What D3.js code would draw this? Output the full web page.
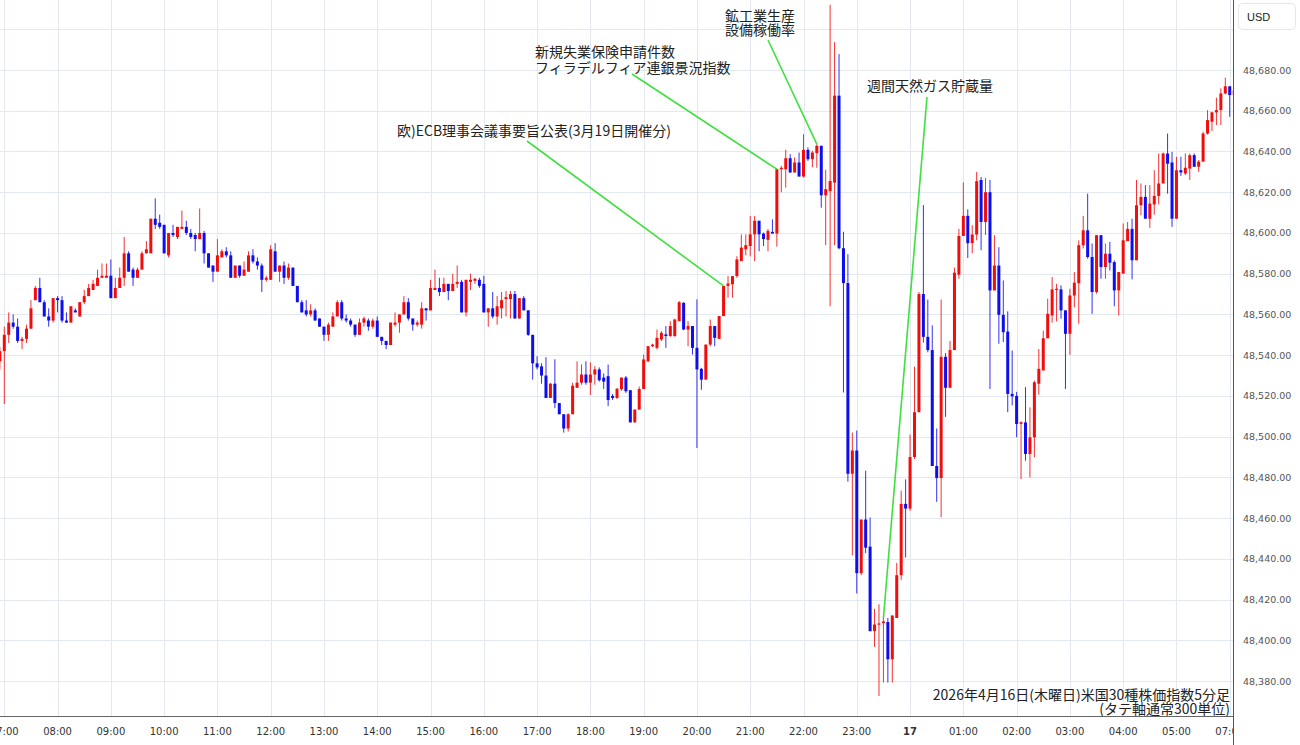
<!DOCTYPE html>
<html><head><meta charset="utf-8">
<script src="https://cdn.jsdelivr.net/npm/d3@7"></script>
<style>
html,body{margin:0;padding:0;background:#fff;}
svg{display:block;}
</style></head>
<body>
<svg id="chart" width="1300" height="745"></svg>
<script>
// ---- data (5-minute bars, index 0 = bar before 07:00 session start) ----
const opens = [48537,48542,48550,48556,48554,48547,48548,48553,48567,48573,48566,48559,48557,48568,48567,48557,48556,48562,48559,48566,48569,48572,48574,48578,48578,48579,48568,48573,48578,48590,
48582,48578,48582,48590,48590,48607,48605,48604,48589,48600,48598,48602,48603,48600,48599,48597,48600,48590,48584,48581,48588,48591,48589,48578,48584,48579,48581,48589,48586,48584,
48577,48577,48591,48581,48584,48578,48583,48574,48566,48562,48560,48562,48558,48554,48550,48554,48559,48566,48558,48557,48555,48550,48556,48557,48554,48557,48549,48547,48545,48555,
48556,48560,48566,48558,48555,48555,48563,48562,48572,48573,48571,48575,48571.5,48575,48576,48561,48576,48576.5,48577,48575,48561,48563,48559,48563,48567.5,48567.5,48570,48558,48568,48562,
48550,48536,48534.5,48530,48519,48526,48516.5,48511,48504,48511,48524,48526.5,48530.5,48526.5,48530.5,48533,48529,48529.7,48520,48519,48523.3,48529,48522.8,48507,48513.3,48523.4,48537,48544.4,48543.6,48547.7,
48550.2,48549.4,48549.4,48556.7,48565.7,48552.6,48554.3,48543.6,48533.3,48528,48545.2,48554.3,48548,48559.2,48574,48574.8,48578.8,48586.2,48592,48593.6,48599.3,48606,48599.7,48596.6,48600.5,48599.7,48631.3,48631.3,48636.7,48629.7,
48634.6,48627.7,48640.8,48636.2,48639.2,48642.8,48618.5,48620.5,48624.7,48667.4,48592.5,48575.4,48481.8,48493.2,48433,48459.3,48446,48404.5,48407.8,48408.5,48409,48390.7,48411,48432,48467,48464.7,48490,48512,48570,48549,
48542.5,48485.6,48479.7,48539.2,48524,48542.5,48579.5,48598.5,48608.4,48595,48599.2,48626,48605.4,48620,48571.8,48584,48559.8,48551.6,48521,48520,48506.3,48507,48491.5,48499.7,48526,48532.5,48548.3,48559.5,48572,48572.3,
48562,48550.5,48569.3,48575.3,48594,48601.3,48588.2,48571,48598.9,48583.3,48589.8,48585.7,48571.8,48580,48596,48602,48586.6,48613.6,48617.7,48607,48614,48618.2,48624.3,48639,48634.6,48607,48630.8,48629.2,48631.6,48638.2,
48632.5,48635,48648.8,48654.6,48659.2,48660.3,48668.5,48672,48667.7];
const highs = [48544,48554,48561,48560,48558,48549,48555,48567,48574,48578,48567,48563,48568,48569,48569,48561,48564,48563,48566,48572,48575,48577,48582,48585,48585,48587,48578,48583,48598,48591,
48583,48583,48591,48596,48607,48617,48609,48604,48600,48604,48603,48611,48606,48602,48600,48612,48601,48590,48584,48597,48592,48593,48591,48584,48584,48586,48591,48592,48588,48585,
48579,48594,48595,48584,48586,48585,48583,48574,48567,48567,48565,48563,48558,48554,48556,48561,48567,48567,48560,48558,48555,48558,48559,48558,48558,48559,48549,48547,48556,48561,
48560,48569,48568,48558,48557,48566,48563,48577,48582,48578,48578,48575,48580,48584,48577,48577,48580,48578,48578,48579,48563,48571,48569,48571,48571.5,48571.5,48571.5,48568,48569,48562,
48550,48539.5,48536,48539,48526.4,48538,48516.5,48511,48511.5,48526.5,48537,48535.5,48537,48536.5,48534.6,48534,48531,48535.4,48521,48523.9,48529,48529.8,48522.8,48513.3,48524.6,48540.3,48544.4,48545.6,48552.6,48551.8,
48554.3,48556.7,48557.9,48566.6,48566,48556.7,48554.3,48567.4,48533.8,48545.2,48557.5,48554.3,48559.2,48574,48578.8,48578.8,48588.6,48599.3,48599.3,48608.4,48608.4,48606,48600.2,48602,48606.7,48631.3,48633,48640.8,48638.7,48637.1,
48639.5,48648.5,48642,48640.4,48643.6,48642.8,48631,48712,48693.7,48687.8,48600.6,48589.6,48502,48503,48459.3,48483.3,48460.3,48415.5,48417.7,48411,48411,48412.2,48438,48473.5,48479,48501,48534.4,48571,48613.7,48567.3,
48554.6,48504,48567.3,48541,48547,48583,48602,48624.8,48611.6,48603.8,48630,48627.5,48627,48626,48598.9,48593,48576.7,48561.5,48542.3,48522,48507.5,48524.3,48514.4,48527.5,48543,48552,48567.7,48578.4,48575,48574.3,
48562,48572.6,48580.8,48596.4,48608.4,48619.3,48594.8,48598.9,48598.9,48594.8,48595.6,48586.5,48580.8,48604.6,48605.4,48607,48626,48624.3,48623.5,48623.5,48630.8,48639,48639.5,48648.8,48639.8,48637.4,48637.4,48639,48639,48639,
48635.8,48649.7,48660.3,48659.5,48666.4,48671,48676.2,48672,48671];
const lows = [48533,48516,48546,48553,48546,48543,48546,48553,48567,48566,48559,48554,48556,48561,48556,48556,48556,48561,48559,48565,48569,48572,48574,48578,48578,48568,48568,48573,48574,48581,
48574,48578,48582,48590,48590,48602,48602,48590,48588,48598,48597,48602,48599,48597,48591,48597,48585,48583,48576,48581,48588,48588,48578,48578,48578,48579,48581,48585,48582,48571,
48576,48577,48581,48576,48575,48577,48574,48566,48561,48559,48559,48557,48554,48547,48547,48554,48559,48557,48556,48554,48549,48550,48554,48552,48553,48549,48545,48543,48545,48554,
48551,48560,48557,48552,48554,48553,48557,48562,48572,48569,48571,48567,48571.5,48573,48561,48559,48572,48575,48573,48561,48554,48558,48555,48558,48559,48558,48558,48558,48562,48549.5,
48528,48533,48526,48519,48519,48514,48511,48502,48502.5,48511,48524,48525.5,48525.5,48520.5,48525.5,48527,48523.4,48515,48518,48518.5,48522.5,48521.5,48507,48507,48513.3,48523.4,48536.5,48544,48542.8,48546.9,
48543.6,48549,48549,48556.7,48552.3,48544.4,48540.3,48494.4,48523,48528,48544.4,48544.4,48548,48559.2,48568.2,48568.2,48578,48586.2,48589,48588.5,48586.2,48591,48593.6,48591,48599.7,48593.3,48620,48622.3,48629.5,48629.7,
48627.7,48627.2,48635.4,48632.3,48632,48612.4,48594,48564,48594,48592,48521.7,48477.9,48441.7,48423,48432,48442.8,48404.5,48396.8,48372.7,48379.3,48379.3,48379.3,48411,48429.7,48440.7,48463.6,48489,48512,48546.2,48541.4,
48485.6,48468,48460.4,48509.7,48524,48542.5,48577.5,48598.5,48587.7,48590,48596.4,48591.5,48599,48523.4,48571.8,48545.6,48546.4,48512,48515.3,48499.7,48479.2,48488.2,48480,48489.9,48520.6,48532.5,48548.3,48556,48556.6,48557.9,
48523.4,48540.2,48563.5,48555.4,48592.4,48587.4,48560.3,48570.2,48577.5,48577.5,48581.6,48564,48559.5,48580,48596,48577.2,48586.6,48608.7,48607,48602.5,48609,48614,48624.3,48619.3,48603,48607,48628,48628.4,48626,48632.5,
48630,48635,48648.3,48650,48653,48653,48668,48657,48666];
const closes = [48542,48550,48556,48554,48547,48548,48553,48563,48573,48566,48559,48557,48568,48567,48557,48556,48564,48561,48566,48569,48573,48575,48578,48579,48579,48568,48573,48578,48590,48581,
48578,48582,48590,48592,48607,48604,48603,48590,48600,48599,48603,48603,48600,48598,48597,48600,48590,48583,48581,48589,48591,48589,48578,48584,48579,48582,48589,48586,48584,48577,
48578,48592,48581,48584,48578,48583,48574,48566,48561,48560,48562,48557,48554,48550,48555,48559,48566,48558,48557,48555,48550,48556,48558,48554,48557,48549,48547,48545,48556,48556,
48560,48566,48558,48555,48556,48563,48562,48573,48573,48571,48575,48571.5,48575,48576,48561,48577,48577,48577.5,48574,48561,48563,48559,48564,48567,48568.5,48570,48558,48568,48562,48550,
48536,48534,48530,48519,48526,48516.5,48511,48504,48511,48525,48526.5,48530.5,48526.5,48530.5,48533,48527.7,48527,48518,48519,48523.5,48529,48522.3,48507,48513.3,48523.4,48537.9,48544.4,48545.2,48548.5,48551,
48549.4,48554.3,48557.5,48566,48552.6,48554.3,48543.6,48533,48528,48545.2,48554.3,48548.5,48559.2,48574,48575.2,48578.8,48587,48592.8,48594,48599.3,48606,48599.3,48597,48601,48599.7,48631.3,48632,48636.7,48629.7,48634.6,
48627.7,48640.8,48636.2,48639.5,48642.8,48618.5,48621.5,48625.5,48667.4,48592.5,48575.4,48481.8,48493.2,48433,48459.3,48445.5,48404.5,48407.8,48408.3,48409.3,48390.7,48412.2,48432,48467,48464.7,48490,48512,48570,48549,48542.5,
48485.6,48479.7,48539.2,48524,48542.5,48580.5,48598.5,48608.4,48595,48599.2,48625.4,48605.4,48620,48571.8,48584,48559.8,48551.3,48521,48519.8,48506.2,48507.1,48491.5,48499.7,48526.7,48533.3,48548.3,48560.3,48572.3,48572.6,48562,
48550.5,48569.3,48575.6,48594,48601.3,48588.2,48571,48598.9,48583.3,48589.8,48585.4,48571.8,48580.8,48596.4,48602,48586.6,48613.6,48617.7,48607,48614.4,48618.2,48624.3,48639,48634,48607,48630.8,48629.7,48632,48638.2,48632.5,
48635,48648.8,48655.4,48659.2,48660.3,48668.5,48672,48667.7,48670];

const priceTicks = [48380,48400,48420,48440,48460,48480,48500,48520,48540,48560,48580,48600,48620,48640,48660,48680];
const gridPrices = [48380,48400,48420,48440,48460,48480,48500,48520,48540,48560,48580,48600,48620,48640,48660,48680,48700];
const timeTickLabels = ["07:00","08:00","09:00","10:00","11:00","12:00","13:00","14:00","15:00","16:00","17:00","18:00","19:00","20:00","21:00","22:00","23:00","17","01:00","02:00","03:00","04:00","05:00","07:00"];
const barsPerHour = 12;
const firstTickBar = 1;

const annotations = [
  {lines:["欧)ECB理事会議事要旨公表(3月19日開催分)"], bar:163},
  {lines:["新規失業保険申請件数","フィラデルフィア連銀景況指数"], bar:175},
  {lines:["鉱工業生産","設備稼働率"], bar:184},
  {lines:["週間天然ガス貯蔵量"], bar:199}
];
const footnote = ["2026年4月16日(木曜日)米国30種株価指数5分足","(タテ軸通常300単位)"];
const currency = "USD";

// ---- layout ----
const W = 1300, H = 745;
const plotRight = 1233, plotBottom = 716;
const svg = d3.select("#chart");

const x = d3.scaleLinear().domain([0, 276]).range([-0.14, 1225.3]);
const y = d3.scaleLinear().domain([48380, 48680]).range([681.1, 70]);

const defs = svg.append("defs");
defs.append("clipPath").attr("id","plotClip").append("rect")
  .attr("x",0).attr("y",0).attr("width",plotRight).attr("height",plotBottom);

const tickBars = timeTickLabels.map((_, k) => firstTickBar + k * barsPerHour);

// grid
const grid = svg.append("g").attr("clip-path","url(#plotClip)");
grid.selectAll("line.h").data(gridPrices).join("line")
  .attr("x1",0).attr("x2",plotRight)
  .attr("y1",d=>Math.round(y(d))+0.5).attr("y2",d=>Math.round(y(d))+0.5)
  .attr("stroke","#e2e9f1").attr("stroke-width",1);
grid.selectAll("line.v").data(tickBars).join("line")
  .attr("x1",d=>Math.round(x(d))+0.5).attr("x2",d=>Math.round(x(d))+0.5)
  .attr("y1",0).attr("y2",plotBottom)
  .attr("stroke","#e2e9f1").attr("stroke-width",1);

// candles
const bars = d3.range(opens.length).map(i => ({i, o:opens[i], h:highs[i], l:lows[i], c:closes[i]}));
const upCol = "#f20d0d", downCol = "#0d0df0";
const cg = svg.append("g").attr("clip-path","url(#plotClip)");
cg.selectAll("line.wick").data(bars).join("line")
  .attr("x1",d=>x(d.i)).attr("x2",d=>x(d.i))
  .attr("y1",d=>y(d.h)).attr("y2",d=>y(d.l))
  .attr("stroke",d=>d.c>=d.o?upCol:downCol).attr("stroke-width",1).attr("stroke-opacity",0.85);
cg.selectAll("rect.body").data(bars).join("rect")
  .attr("x",d=>x(d.i)-1.5).attr("width",3)
  .attr("y",d=>y(Math.max(d.o,d.c)))
  .attr("height",d=>Math.max(1.2, Math.abs(y(d.o)-y(d.c))))
  .attr("fill",d=>d.c>=d.o?upCol:downCol);

// annotation lines + text
const jpFont = "'Noto Sans CJK JP','Noto Sans',sans-serif";
const annLayout = [
  {tx:397, ty:136, lx:527, ly:141, lh:15},
  {tx:535, ty:57, lx:632, ly:74, lh:15.5},
  {tx:725, ty:21, lx:768, ly:40, lh:13.5},
  {tx:867, ty:91, lx:927, ly:97, lh:15}
];
const ag = svg.append("g");
annotations.forEach((a, k) => {
  const L = annLayout[k];
  const b = bars[a.bar];
  ag.append("line")
    .attr("x1",L.lx).attr("y1",L.ly)
    .attr("x2",x(a.bar)).attr("y2",y(b.h))
    .attr("stroke","#3fe03f").attr("stroke-width",1.6);
  a.lines.forEach((t, j) => {
    ag.append("text").attr("x",L.tx).attr("y",L.ty + j*L.lh)
      .attr("font-family",jpFont).attr("font-size",14).attr("fill","#222")
      .text(t);
  });
});

// footnote
footnote.forEach((t, j) => {
  svg.append("text").attr("x",1230).attr("y",700 + j*14)
    .attr("text-anchor","end").attr("font-family",jpFont).attr("font-size",14)
    .attr("fill","#222").text(t);
});

// axes frame
svg.append("line").attr("x1",0).attr("x2",plotRight).attr("y1",plotBottom+0.5).attr("y2",plotBottom+0.5)
  .attr("stroke","#666").attr("stroke-width",1);
svg.append("line").attr("x1",plotRight+0.5).attr("x2",plotRight+0.5).attr("y1",0).attr("y2",H)
  .attr("stroke","#555").attr("stroke-width",1);

// bottom axis labels
const axisFont = "'DejaVu Sans',Verdana,sans-serif";
defs.append("clipPath").attr("id","xlabClip").append("rect")
  .attr("x",0).attr("y",plotBottom+1).attr("width",plotRight).attr("height",H-plotBottom);
const xg = svg.append("g").attr("clip-path","url(#xlabClip)");
xg.selectAll("text").data(timeTickLabels).join("text")
  .attr("x",(d,k)=>x(tickBars[k])).attr("y",735)
  .attr("text-anchor","middle").attr("font-family",axisFont).attr("font-size",10)
  .attr("font-weight",d=>d.length<=2?"bold":"normal")
  .attr("fill","#333").text(d=>d);

// right axis labels
const fmt = d3.format(",.2f");
svg.append("g").selectAll("text").data(priceTicks).join("text")
  .attr("x",1243).attr("y",d=>y(d)+3.5)
  .attr("font-family",axisFont).attr("font-size",9.5).attr("fill","#555")
  .text(d=>fmt(d));

// currency box
svg.append("rect").attr("x",1238.5).attr("y",3.5).attr("width",57).attr("height",26).attr("rx",4)
  .attr("fill","#fff").attr("stroke","#e6e6e6");
svg.append("text").attr("x",1247).attr("y",21).attr("font-family","'Liberation Sans',Arial,sans-serif")
  .attr("font-size",11).attr("fill","#222").text(currency);
</script>
</body></html>
